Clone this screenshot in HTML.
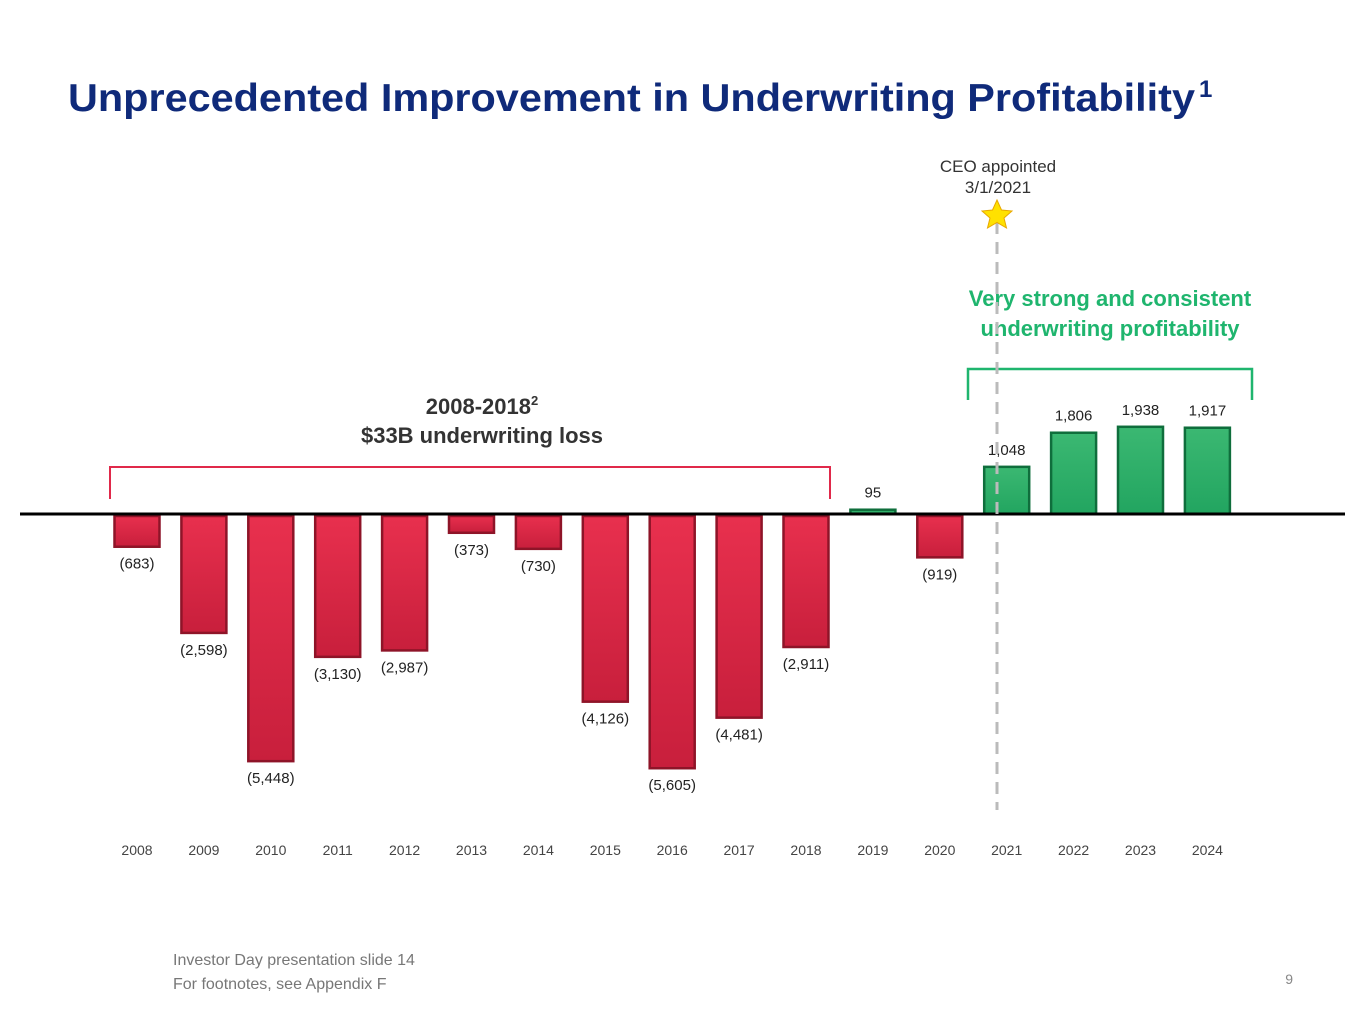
<!DOCTYPE html>
<html><head><meta charset="utf-8">
<style>
body{margin:0;background:#fff;font-family:"Liberation Sans",sans-serif;}
#wrap{position:relative;width:1365px;height:1024px;overflow:hidden;}
</style></head>
<body>
<div id="wrap">
<svg id="chart" width="1365" height="1024" style="position:absolute;left:0;top:0">
<defs>
<linearGradient id="rg" x1="0" y1="0" x2="0" y2="1"><stop offset="0" stop-color="#e8304e"/><stop offset="1" stop-color="#c81f3c"/></linearGradient>
<linearGradient id="gg" x1="0" y1="0" x2="0" y2="1"><stop offset="0" stop-color="#3bb872"/><stop offset="1" stop-color="#22a560"/></linearGradient>
</defs>
<text x="68" y="111" font-size="39" font-weight="bold" fill="#0f2a7a" textLength="1127" lengthAdjust="spacingAndGlyphs">Unprecedented Improvement in Underwriting Profitability</text>
<text x="1199" y="97" font-size="24" font-weight="bold" fill="#0f2a7a">1</text>
<g id="bars"></g>
<line x1="20" y1="514" x2="1345" y2="514" stroke="#000" stroke-width="3"/>
<path d="M110,499 V467 H830 V499" fill="none" stroke="#e0294a" stroke-width="2"/>
<text x="482" y="414" text-anchor="middle" font-size="22" font-weight="bold" fill="#333">2008-2018<tspan font-size="13" dy="-9">2</tspan></text>
<text x="482" y="443" text-anchor="middle" font-size="22" font-weight="bold" fill="#333">$33B underwriting loss</text>
<path d="M968,400 V369 H1252 V400" fill="none" stroke="#1fb56e" stroke-width="2.5"/>
<text x="1110" y="306" text-anchor="middle" font-size="22" font-weight="bold" fill="#1fb56e">Very strong and consistent</text>
<text x="1110" y="336" text-anchor="middle" font-size="22" font-weight="bold" fill="#1fb56e">underwriting profitability</text>
<line x1="997" y1="222" x2="997" y2="810" stroke="#bbb" stroke-width="3" stroke-dasharray="12,8"/>
<polygon points="997,200 1001.5,210 1012,211 1004,218 1006.5,228 997,222.5 987.5,228 990,218 982,211 992.5,210" fill="#ffe100" stroke="#e8a800" stroke-width="1"/>
<text x="998" y="172" text-anchor="middle" font-size="17" fill="#333">CEO appointed</text>
<text x="998" y="193" text-anchor="middle" font-size="17" fill="#333">3/1/2021</text>
<text x="173" y="965" font-size="16" fill="#777">Investor Day presentation slide 14</text>
<text x="173" y="989" font-size="16" fill="#777">For footnotes, see Appendix F</text>
<text x="1293" y="984" text-anchor="end" font-size="14" fill="#888">9</text>
</svg>
<script>
const years=["2008","2009","2010","2011","2012","2013","2014","2015","2016","2017","2018","2019","2020","2021","2022","2023","2024"];
const values=[-683,-2598,-5448,-3130,-2987,-373,-730,-4126,-5605,-4481,-2911,95,-919,1048,1806,1938,1917];
const valueLabels=["(683)","(2,598)","(5,448)","(3,130)","(2,987)","(373)","(730)","(4,126)","(5,605)","(4,481)","(2,911)","95","(919)","1,048","1,806","1,938","1,917"];
const NS="http://www.w3.org/2000/svg";
const baseY=514, k=0.045, x0=137, step=66.9, bw=45;
function xs(i){return x0+i*step;}
function ys(v){return baseY-v*k;}
const g=document.getElementById('bars');
values.forEach((v,i)=>{
  const cx=xs(i), y1=ys(v);
  const top=Math.min(baseY+2,y1), h=Math.max(Math.abs(y1-baseY),2);
  const r=document.createElementNS(NS,'rect');
  r.setAttribute('x',cx-bw/2);r.setAttribute('y',v<0?baseY+2:top);
  r.setAttribute('width',bw);r.setAttribute('height',h);
  r.setAttribute('fill',v<0?'url(#rg)':'url(#gg)');
  r.setAttribute('stroke',v<0?'#8e1428':'#0f6e3c');r.setAttribute('stroke-width','2.5');
  
  
  g.appendChild(r);
  const t=document.createElementNS(NS,'text');
  t.setAttribute('x',cx);t.setAttribute('text-anchor','middle');
  t.setAttribute('font-size','15');t.setAttribute('fill','#222');
  t.setAttribute('y',v<0?y1+24:y1-12);
  t.textContent=valueLabels[i];
  
  
  g.appendChild(t);
  const a=document.createElementNS(NS,'text');
  a.setAttribute('x',cx);a.setAttribute('y',855);a.setAttribute('text-anchor','middle');
  a.setAttribute('font-size','14');a.setAttribute('fill','#444');
  a.textContent=years[i];
  
  
  g.appendChild(a);
});
</script>
</div>
</body></html>
